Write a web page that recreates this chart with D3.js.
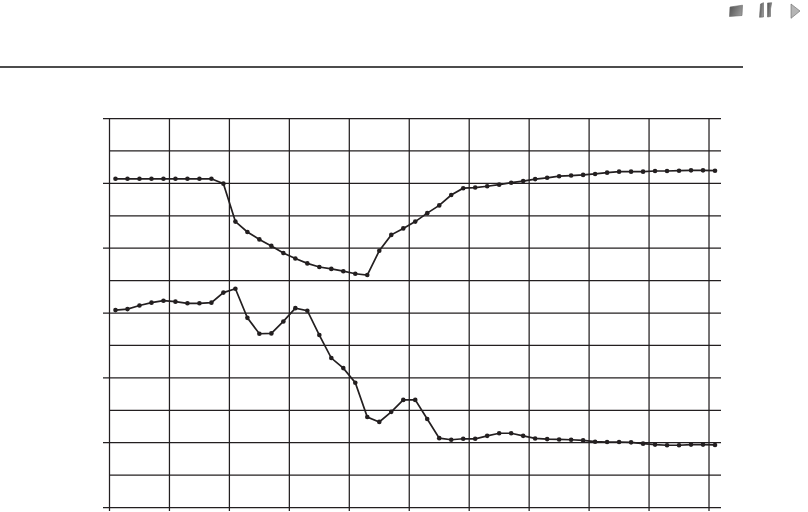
<!DOCTYPE html>
<html><head><meta charset="utf-8">
<script src="https://cdn.jsdelivr.net/npm/d3@7"></script>
<style>html,body{margin:0;padding:0;background:#fff}svg{display:block}</style>
</head><body><div id="c"></div>
<script>
const upperSeries=[101.4,101.4,101.4,101.4,101.4,101.4,101.4,101.4,101.4,99.9,88.2,85.0,82.7,80.7,78.5,76.8,75.3,74.2,73.6,72.9,72.1,71.7,79.2,84.1,86.1,88.2,90.8,93.2,96.4,98.5,98.7,99.1,99.6,100.2,100.7,101.3,101.7,102.2,102.4,102.6,102.9,103.3,103.6,103.6,103.6,103.8,103.8,103.9,104.0,104.0,103.9];
const lowerSeries=[60.9,61.2,62.3,63.2,63.8,63.5,63.0,63.0,63.2,66.3,67.5,58.5,53.6,53.7,57.4,61.5,60.7,53.2,46.1,43.0,38.5,27.9,26.4,29.5,33.2,33.2,27.3,21.4,20.9,21.2,21.2,22.1,22.9,22.9,22.1,21.3,21.1,21.0,20.9,20.7,20.3,20.2,20.2,20.1,19.7,19.4,19.2,19.2,19.4,19.4,19.3];
const yMajor=[0,20,40,60,80,100,120];
const yMinor=[10,30,50,70,90,110];
const xGrid=[-0.5,4.5,9.5,14.5,19.5,24.5,29.5,34.5,39.5,44.5,49.5];

const W=808,H=512,ink="#231f20";
const svg=d3.select("#c").append("svg").attr("width",W).attr("height",H);
const x=d3.scaleLinear().domain([-0.5,50.5]).range([109.5,721]);
const y=d3.scaleLinear().domain([0,120]).range([507.5,118.5]);

svg.append("line").attr("x1",0).attr("x2",743).attr("y1",67).attr("y2",67).attr("stroke","#111").attr("stroke-width",1.3);

const grid=svg.append("g").attr("stroke",ink).attr("stroke-width",1.25);
grid.selectAll("line.h").data(yMajor.concat(yMinor)).join("line").attr("class","h")
  .attr("x1",d=>yMajor.includes(d)?103:x(-0.5)).attr("x2",x(50.5)).attr("y1",d=>y(d)).attr("y2",d=>y(d));
grid.selectAll("line.v").data(xGrid).join("line").attr("class","v")
  .attr("x1",d=>x(d)).attr("x2",d=>x(d)).attr("y1",y(120)).attr("y2",511);

const line=d3.line().x((d,i)=>x(i)).y(d=>y(d));
[upperSeries,lowerSeries].forEach(s=>{
  const g=svg.append("g");
  g.append("path").attr("d",line(s)).attr("fill","none").attr("stroke",ink).attr("stroke-width",1.7);
  g.selectAll("circle").data(s).join("circle").attr("cx",(d,i)=>x(i)).attr("cy",d=>y(d)).attr("r",2.3).attr("fill",ink);
});

const defs=svg.append("defs");
const gr=defs.append("linearGradient").attr("id","ig").attr("x1",0).attr("x2",1).attr("y1",0.2).attr("y2",0.6);
gr.append("stop").attr("offset",0).attr("stop-color","#555");
gr.append("stop").attr("offset",1).attr("stop-color","#9a9a9a");
const icons=svg.append("g").attr("fill","url(#ig)").attr("stroke","#666").attr("stroke-width",0.6);
icons.append("path").attr("d","M730 7L742.5 5.2L742 15.5L729.5 16.5Z");
icons.append("path").attr("d","M760.5 4L763.5 2.7L763.5 17L759.5 17.3Z");
icons.append("path").attr("d","M767.5 3L771.7 2.7L770.5 9L770.5 16.5L767.5 17Z");
icons.append("path").attr("d","M791 4L800 11L791 18.3Z").attr("fill","#b5b5b5");
</script></body></html>
